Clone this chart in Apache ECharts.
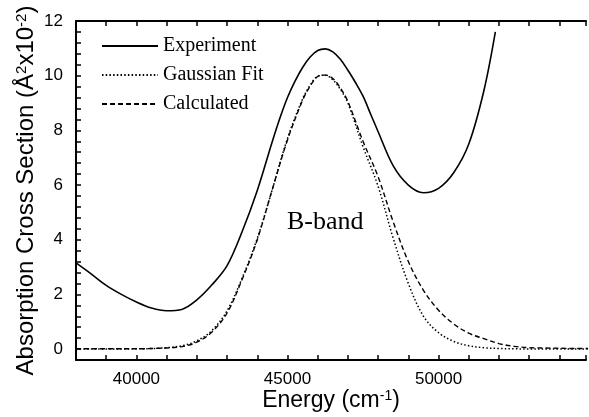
<!DOCTYPE html>
<html>
<head>
<meta charset="utf-8">
<script src="https://cdn.jsdelivr.net/npm/echarts@6/dist/echarts.min.js"></script>
<style>
  html, body { margin: 0; padding: 0; background: #fff; }
  #chart { width: 589px; height: 417px; }
</style>
</head>
<body>
<div id="chart"></div>
<script>
// experiment (solid)
const expX = [38000, 38500, 39000, 39500, 40000, 40500, 41000, 41500, 42000, 42500, 43000, 43500, 44000, 44500, 44750, 45000, 45250, 45500, 45750, 46000, 46250, 46500, 46750, 47000, 47250, 47500, 47750, 48000, 48500, 49000, 49500, 50000, 50500, 51000, 51500, 51880];
const expY = [3.15, 2.75, 2.33, 2.0, 1.72, 1.5, 1.4, 1.45, 1.8, 2.35, 3.05, 4.3, 5.8, 7.6, 8.45, 9.2, 9.8, 10.3, 10.68, 10.92, 10.98, 10.87, 10.6, 10.2, 9.75, 9.25, 8.6, 7.95, 6.7, 6.0, 5.72, 5.88, 6.45, 7.5, 9.45, 11.6];

// gaussian fit (dotted) and calculated (dashed) share the x grid
const gaussX = [38000, 38500, 39000, 39500, 40000, 40500, 41000, 41500, 42000, 42500, 43000, 43500, 44000, 44500, 45000, 45500, 45750, 46000, 46250, 46500, 46750, 47000, 47500, 48000, 48500, 49000, 49500, 50000, 50500, 51000, 51500, 52000, 52500, 53000, 53500, 54000, 54500, 55000];
const fitY = [0, 0, 0, 0, 0.01, 0.02, 0.05, 0.12, 0.3, 0.68, 1.4, 2.6, 4.05, 5.85, 7.7, 9.15, 9.65, 9.98, 10.02, 9.85, 9.5, 9.0, 7.4, 5.95, 4.05, 2.4, 1.2, 0.6, 0.28, 0.12, 0.05, 0.02, 0.01, 0, 0, 0, 0, 0];
const calcY = [0.01, 0.01, 0.01, 0.01, 0.01, 0.02, 0.04, 0.09, 0.25, 0.62, 1.32, 2.55, 4.0, 5.85, 7.65, 9.1, 9.62, 9.97, 10.02, 9.9, 9.55, 9.05, 7.6, 6.3, 4.65, 3.2, 2.15, 1.42, 0.92, 0.58, 0.38, 0.2, 0.1, 0.05, 0.04, 0.03, 0.02, 0.02];

// axis ticks: labels every 5000 / every 2, ticks every 1000 / every 0.4
const xLabelStep = 5000;
const yLabelStep = 2;

const sans = 'Liberation Sans';
const serif = 'Liberation Serif';
const black = '#000';

const pairs = (xs, ys) => xs.map((x, i) => [x, ys[i]]);
const onStep = (v, step) => Math.abs(v - Math.round(v / step) * step) < 1e-6;

const chart = echarts.init(document.getElementById('chart'));

const frameLine = () => ({ show: true, onZero: false, lineStyle: { color: black, width: 2 } });
const tick = () => ({ show: true, inside: true, length: 5, lineStyle: { color: black, width: 1.5 } });

chart.setOption({
    animation: false,
    title: { text: '' },
    grid: { left: 76, right: -3, top: 21, bottom: 51 },
    legend: {
        orient: 'vertical', left: 96, top: 31,
        itemWidth: 56, itemHeight: 12, itemGap: 9,
        itemStyle: { opacity: 0 },
        textStyle: { fontFamily: serif, fontSize: 20, color: black },
        data: ['Experiment', 'Gaussian Fit', 'Calculated']
    },
    xAxis: [
        {
            type: 'value', min: 38000, max: 54880, interval: 1000, position: 'bottom',
            name: 'Energy (cm{sup|-1})', nameLocation: 'middle', nameGap: 29, nameMoveOverlap: false,
            nameTextStyle: {
                fontFamily: sans, fontSize: 23, color: black,
                rich: { sup: { fontFamily: sans, fontSize: 14, verticalAlign: 'top', color: black } }
            },
            axisLine: frameLine(), axisTick: tick(), splitLine: { show: false },
            axisLabel: {
                margin: 11, fontFamily: sans, fontSize: 17, color: black,
                formatter: v => onStep(v, xLabelStep) ? String(v) : ''
            }
        },
        {
            type: 'value', min: 38000, max: 54880, interval: 1000, position: 'top',
            axisLine: frameLine(), axisTick: tick(), splitLine: { show: false },
            axisLabel: { show: false }
        }
    ],
    yAxis: {
        type: 'value', min: -0.4, max: 12, interval: 0.4, position: 'left',
        name: 'Absorption Cross Section (Å{sup|2}x10{sup|-2})', nameLocation: 'middle', nameGap: 38, nameMoveOverlap: false,
        nameTextStyle: {
            fontFamily: sans, fontSize: 24, color: black,
            rich: { sup: { fontFamily: sans, fontSize: 15, verticalAlign: 'top', color: black } }
        },
        axisLine: frameLine(), axisTick: tick(), splitLine: { show: false },
        axisLabel: {
            margin: 13, fontFamily: sans, fontSize: 17, color: black,
            formatter: v => onStep(v, yLabelStep) ? String(Math.round(v)) : ''
        }
    },
    series: [
        {
            name: 'Experiment', type: 'line', data: pairs(expX, expY),
            smooth: 0.35, symbol: 'none',
            lineStyle: { color: black, width: 1.6, type: 'solid' }
        },
        {
            name: 'Gaussian Fit', type: 'line', data: pairs(gaussX, fitY),
            smooth: 0.35, symbol: 'none',
            lineStyle: { color: black, width: 1.5, type: [1.5, 2.2] }
        },
        {
            name: 'Calculated', type: 'line', data: pairs(gaussX, calcY),
            smooth: 0.35, symbol: 'none',
            lineStyle: { color: black, width: 1.4, type: [5, 3] }
        }
    ],
    graphic: [
        {
            type: 'text', left: 287, top: 209,
            style: { text: 'B-band', fontFamily: serif, fontSize: 26, fill: black }
        }
    ]
});
</script>
</body>
</html>
